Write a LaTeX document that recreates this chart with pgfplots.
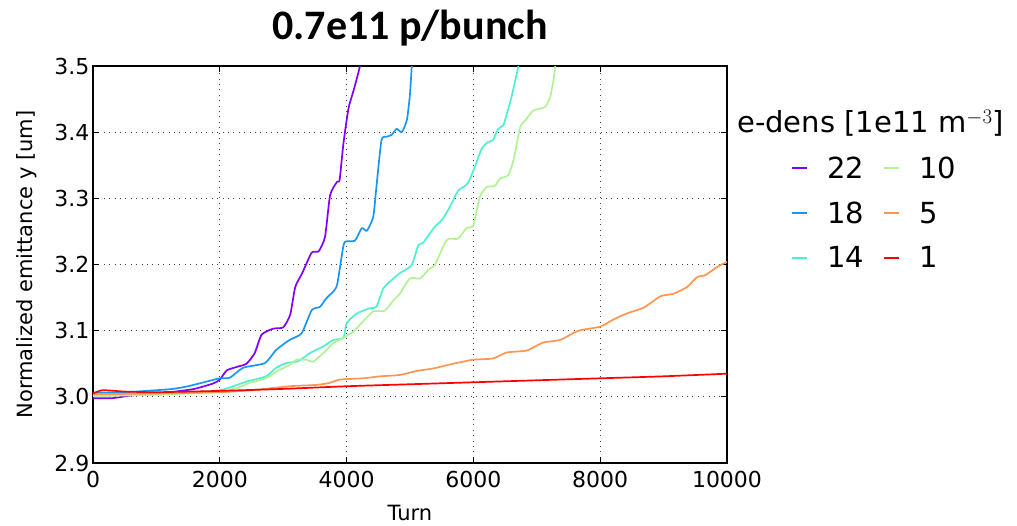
\documentclass[border=0pt]{standalone}
\usepackage{pgfplots}
\pgfplotsset{compat=1.18}
\usepackage{fontspec}
\setmainfont{DejaVu Sans}
\newfontfamily\titlefont{Carlito}

% rainbow colour map, six densities
\definecolor{densA}{rgb}{0.50,0.00,1.00}
\definecolor{densB}{rgb}{0.10,0.59,0.95}
\definecolor{densC}{rgb}{0.30,0.95,0.81}
\definecolor{densD}{rgb}{0.70,0.95,0.59}
\definecolor{densE}{rgb}{1.00,0.59,0.31}
\definecolor{densF}{rgb}{1.00,0.00,0.00}

\begin{document}
\begin{tikzpicture}
\begin{axis}[
  name=ax, at={(0,0)}, anchor=south west,
  scale only axis, width=634pt, height=397pt,
  xmin=0, xmax=10000, ymin=2.9, ymax=3.5,
  xtick={0,2000,4000,6000,8000,10000},
  ytick={2.9,3.0,3.1,3.2,3.3,3.4,3.5},
  scaled x ticks=false,
  xticklabel style={/pgf/number format/1000 sep={}, yshift=-5pt},
  yticklabel style={/pgf/number format/.cd, fixed, fixed zerofill, precision=1},
  /pgf/number format/assume math mode=true,
  tick label style={font=\fontsize{22}{26}\selectfont},
  label style={font=\fontsize{21}{25}\selectfont},
  xlabel={Turn}, ylabel={Normalized emittance y [um]},
  xlabel style={at={(axis description cs:0.5,0)}, anchor=center, yshift=-50pt},
  ylabel style={at={(axis description cs:-0.104,0.5)}, anchor=center},
  grid=major,
  major grid style={black!75, line width=0.9pt, dash pattern=on 0.9pt off 4.5pt},
  tick align=inside, major tick length=6pt,
  tick style={black, line width=1pt},
  axis line style={black, line width=1.3pt},
  every axis plot/.append style={line width=1.7pt, line join=round, smooth, tension=0.35},
  legend columns=2, legend cell align=left,
  legend style={at={(axis description cs:1.0962,0.6297)}, anchor=west,
    draw=none, fill=none, font=\fontsize{29}{35}\selectfont,
    column sep=17pt, row sep=18pt},
  legend image code/.code={\draw[#1, line width=2pt] (0pt,0pt) -- (15pt,0pt);},
]
% 22e11 m^-3
\addplot[densA, forget plot] coordinates {
(0,2.998) (300,2.998) (600,3.002) (1000,3.005) (1300,3.008) (1600,3.012)
(1890,3.020) (2000,3.026) (2110,3.040) (2260,3.045) (2420,3.050) (2550,3.066)
(2660,3.094) (2840,3.103) (3000,3.105) (3110,3.124) (3190,3.166) (3300,3.187)
(3450,3.218) (3560,3.220) (3660,3.242) (3740,3.305) (3850,3.325) (3890,3.328)
(3950,3.383) (4030,3.436) (4110,3.463) (4210,3.500) (4240,3.530)};
% 18e11 m^-3
\addplot[densB, forget plot] coordinates {
(0,3.006) (500,3.007) (1000,3.010) (1265,3.012) (1500,3.016) (1790,3.023)
(2000,3.028) (2160,3.029) (2370,3.044) (2710,3.051) (2890,3.071) (3100,3.086)
(3290,3.096) (3450,3.131) (3580,3.136) (3680,3.149) (3840,3.166) (3920,3.211)
(3970,3.234) (4130,3.236) (4240,3.255) (4320,3.251) (4420,3.272) (4470,3.317)
(4550,3.388) (4630,3.393) (4710,3.396) (4790,3.405) (4870,3.400) (4950,3.418)
(5000,3.458) (5040,3.520)};
% 14e11 m^-3
\addplot[densC, forget plot] coordinates {
(0,3.002) (1000,3.004) (1500,3.006) (2000,3.010) (2210,3.016) (2420,3.023)
(2730,3.031) (2890,3.044) (3050,3.051) (3240,3.054) (3420,3.066) (3630,3.076)
(3790,3.086) (3950,3.089) (4000,3.111) (4160,3.126) (4370,3.134) (4470,3.136)
(4580,3.164) (4740,3.179) (4840,3.187) (5025,3.199) (5130,3.229) (5200,3.232)
(5290,3.244) (5390,3.257) (5500,3.267) (5600,3.282) (5680,3.297) (5760,3.312)
(5840,3.317) (5920,3.324) (6020,3.347) (6130,3.375) (6230,3.385) (6310,3.388)
(6390,3.405) (6470,3.410) (6520,3.425) (6600,3.453) (6660,3.478) (6710,3.500)
(6740,3.520)};
% 10e11 m^-3
\addplot[densD, forget plot] coordinates {
(0,3.001) (1000,3.003) (1500,3.005) (2000,3.008) (2260,3.013) (2470,3.021)
(2730,3.028) (2890,3.038) (3100,3.048) (3210,3.056) (3370,3.056) (3470,3.053)
(3630,3.066) (3790,3.081) (3950,3.089) (4110,3.099) (4210,3.109) (4420,3.129)
(4600,3.130) (4740,3.146) (4840,3.156) (5000,3.179) (5160,3.179) (5310,3.194)
(5390,3.199) (5580,3.237) (5760,3.239) (5890,3.255) (6000,3.259) (6100,3.302)
(6210,3.317) (6340,3.319) (6420,3.330) (6550,3.335) (6630,3.357) (6740,3.408)
(6820,3.418) (6950,3.433) (7130,3.438) (7210,3.453) (7270,3.483) (7290,3.500)
(7310,3.520)};
% 5e11 m^-3
\addplot[densE, forget plot] coordinates {
(0,3.004) (1000,3.005) (2000,3.007) (2500,3.010) (3100,3.016) (3520,3.018)
(3730,3.021) (3890,3.026) (4260,3.028) (4527,3.031) (4840,3.033) (5100,3.039)
(5370,3.043) (5680,3.050) (5990,3.056) (6310,3.058) (6520,3.067) (6840,3.070)
(7100,3.082) (7370,3.086) (7660,3.100) (8000,3.106) (8210,3.117) (8420,3.126)
(8690,3.135) (8950,3.152) (9160,3.156) (9370,3.166) (9530,3.181) (9660,3.184)
(9840,3.196) (10000,3.204)};
% 1e11 m^-3
\addplot[densF, forget plot] coordinates {
(0,3.005) (150,3.010) (500,3.008) (1000,3.007) (2000,3.009) (3000,3.012)
(4000,3.016) (5000,3.019) (6000,3.022) (7000,3.025) (8000,3.028) (9000,3.031)
(10000,3.035)};

% legend, filled column by column
\addlegendimage{draw=densA}\addlegendentry{22}
\addlegendimage{draw=densD}\addlegendentry{10}
\addlegendimage{draw=densB}\addlegendentry{18}
\addlegendimage{draw=densE}\addlegendentry{5}
\addlegendimage{draw=densC}\addlegendentry{14}
\addlegendimage{draw=densF}\addlegendentry{1}
\end{axis}

\node[anchor=base, font=\titlefont\bfseries\fontsize{42}{50}\selectfont]
  at (317pt,423pt) {0.7e11 p/bunch};
\node[anchor=base west, inner sep=0pt, font=\fontsize{29}{35}\selectfont]
  at (644pt,330pt) {e-dens [1e11 m$^{-3}$]};

\pgfresetboundingbox
\path (-93pt,-62pt) rectangle (924pt,463pt);
\end{tikzpicture}
\end{document}
